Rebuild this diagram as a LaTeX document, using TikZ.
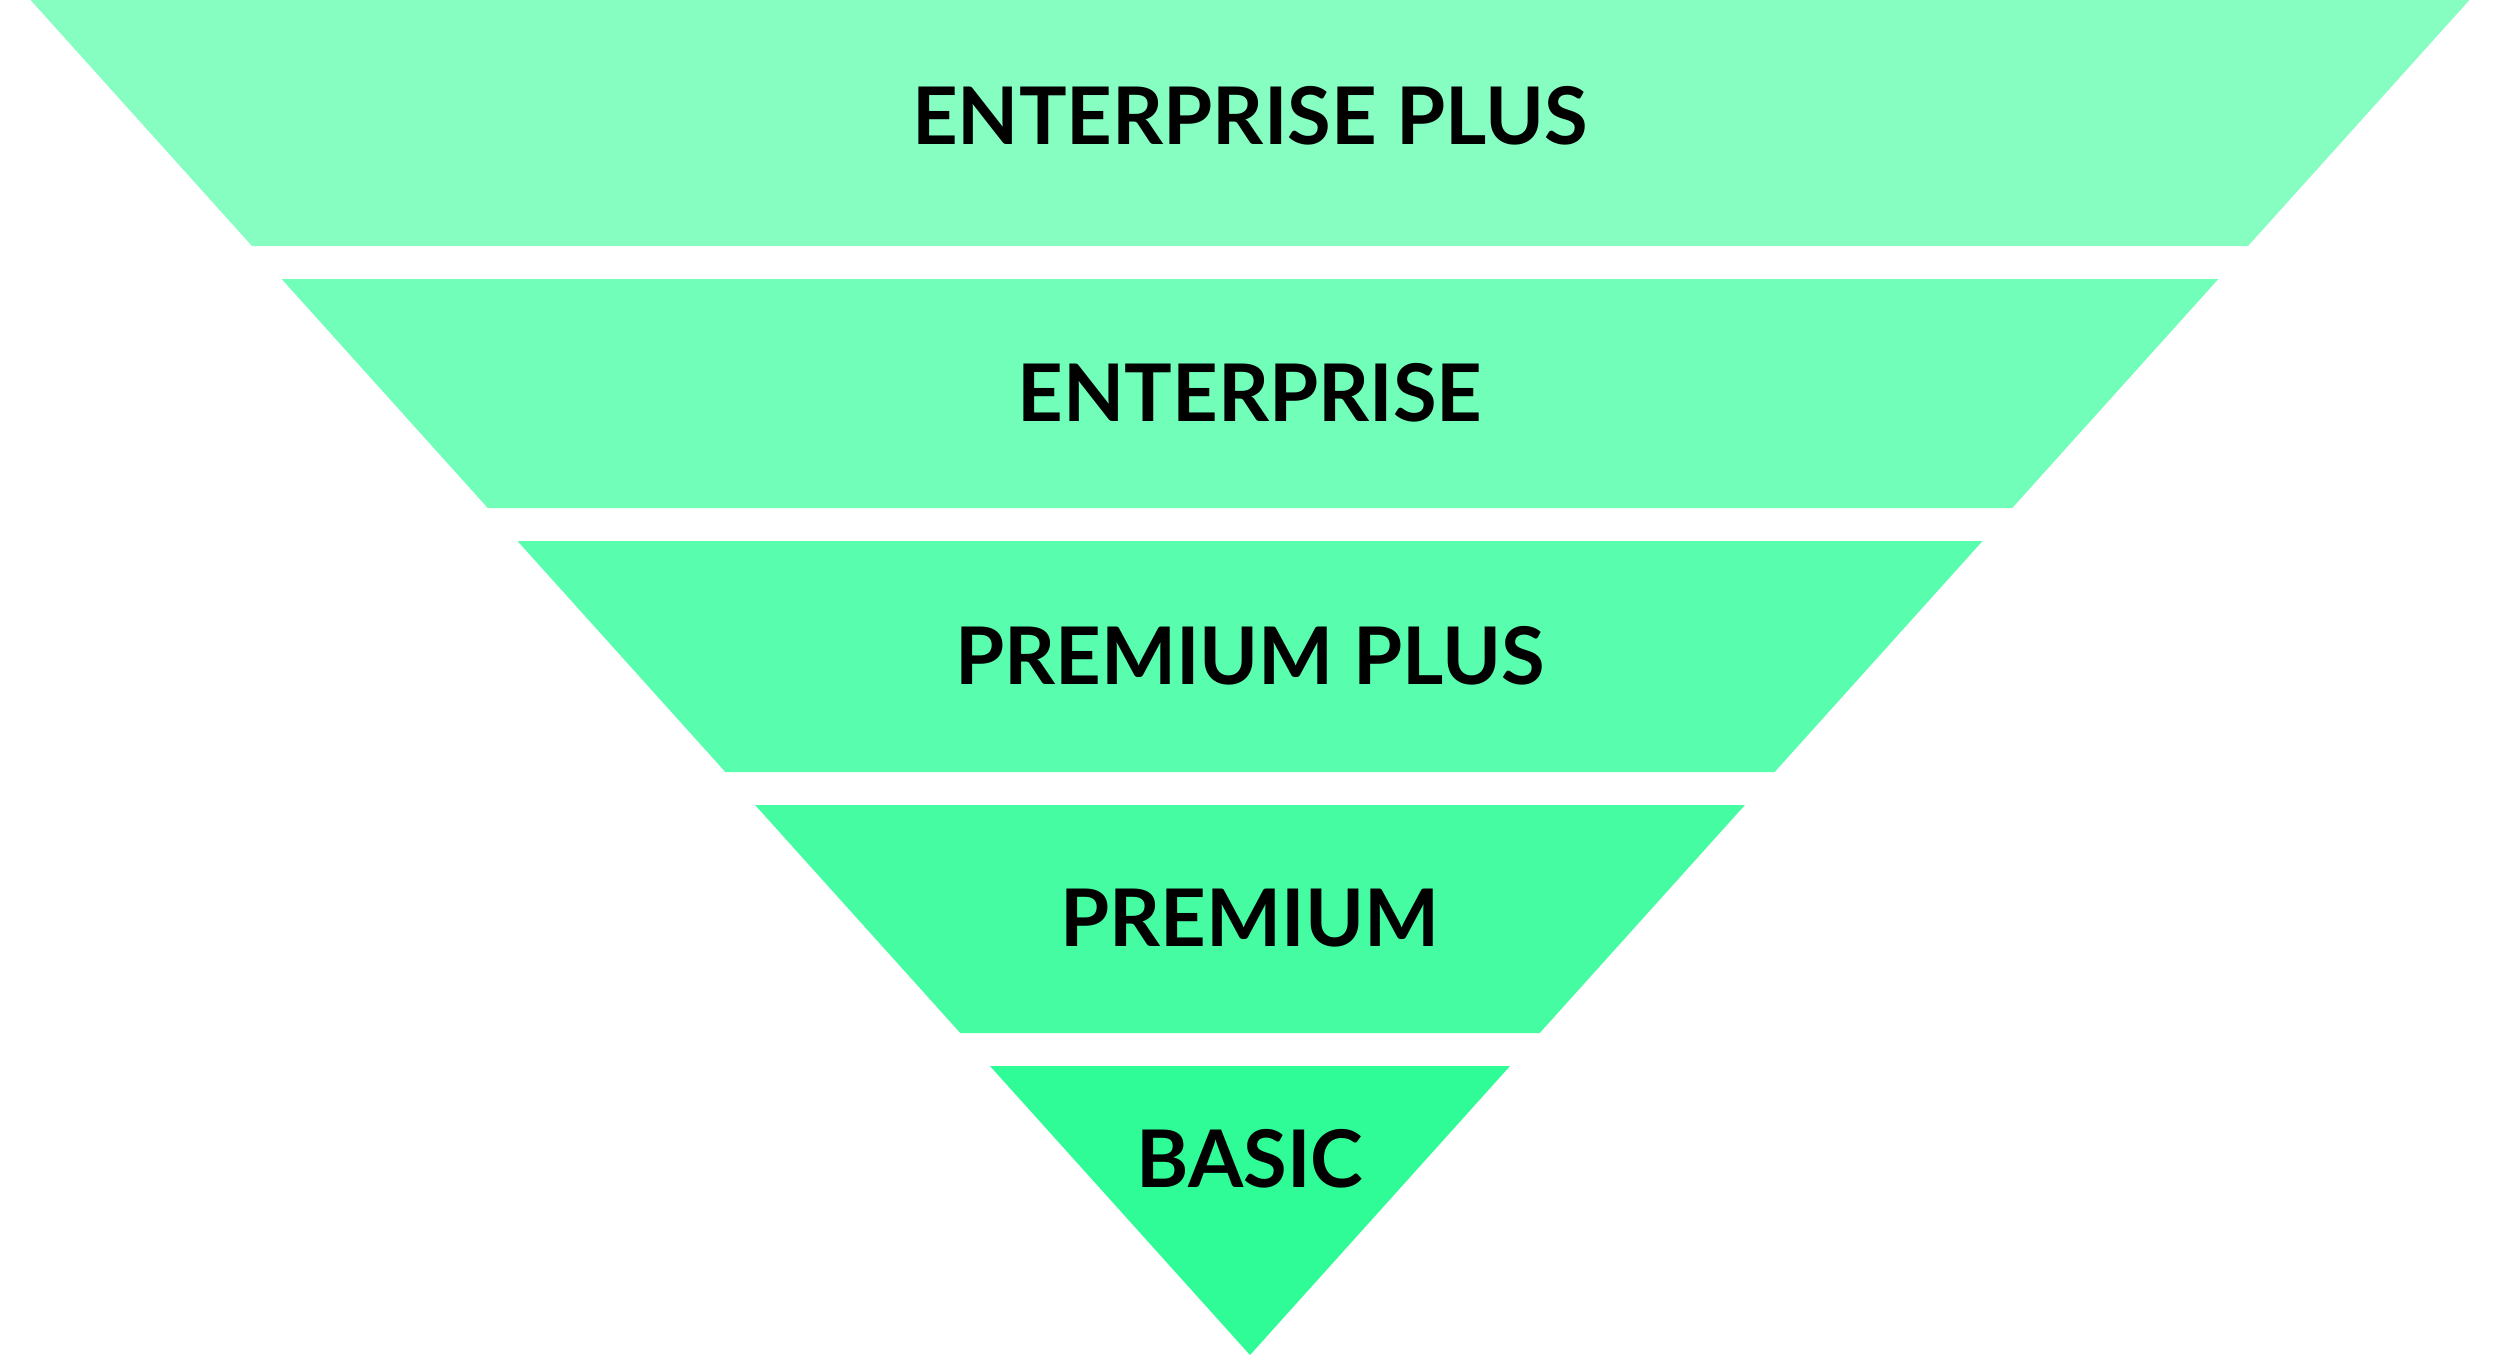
\documentclass[tikz,border=0pt]{standalone}
\usepackage{fontspec}
\setmainfont{Lato}
\definecolor{cA}{RGB}{134,253,193}
\definecolor{cB}{RGB}{112,254,185}
\definecolor{cC}{RGB}{89,253,174}
\definecolor{cD}{RGB}{69,252,163}
\definecolor{cE}{RGB}{48,252,151}
\tikzset{
  band/.style={draw=none},
  lbl/.style={font=\fontsize{31.8}{34}\selectfont\bfseries, text=black, inner sep=0pt, anchor=center}
}
\begin{document}
\begin{tikzpicture}[x=0.4pt,y=-0.4pt]
\useasboundingbox[fill=white] (0,0) rectangle (2500,1355);
\fill[band,cA] (30.6,0) -- (2469.4,0) -- (2248,246) -- (252,246) -- cycle;
\fill[band,cB] (281.7,279) -- (2218.3,279) -- (2012.2,508) -- (487.8,508) -- cycle;
\fill[band,cC] (517.5,541) -- (1982.5,541) -- (1774.6,772) -- (725.4,772) -- cycle;
\fill[band,cD] (755.1,805) -- (1744.9,805) -- (1539.7,1033) -- (960.3,1033) -- cycle;
\fill[band,cE] (990,1066) -- (1510,1066) -- (1250,1355) -- cycle;
\node[lbl] (t1) at (1250,116) {ENTERPRISE PLUS};
\node[lbl] (t2) at (1250,393) {ENTERPRISE};
\node[lbl] (t3) at (1250,656) {PREMIUM PLUS};
\node[lbl] (t4) at (1250,918) {PREMIUM};
\node[lbl] (t5) at (1250,1159) {BASIC};
\end{tikzpicture}
\end{document}
